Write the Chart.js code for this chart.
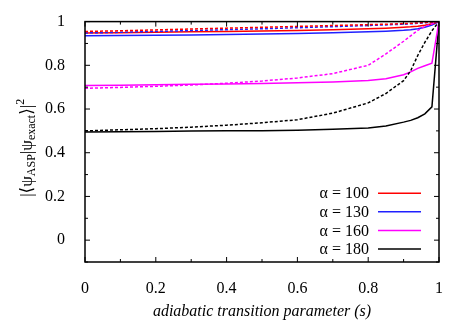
<!DOCTYPE html>
<html>
<head>
<meta charset="utf-8">
<script src="https://cdn.jsdelivr.net/npm/chart.js@4"></script>
<style>
  html, body { margin: 0; padding: 0; background: #fff; }
  #wrap { width: 463px; height: 324px; }
</style>
</head>
<body>
<div id="wrap"><canvas id="grafico" width="463" height="324"></canvas></div>
<script>
// valores
const sValues = [0, 0.1, 0.2, 0.3, 0.4, 0.5, 0.6, 0.7, 0.8, 0.85, 0.9, 0.92, 0.94, 0.96, 0.98, 1]

const alpha100 = [0.948, 0.949, 0.951, 0.953, 0.955, 0.957, 0.959, 0.963, 0.967, 0.97, 0.974, 0.976, 0.979, 0.983, 0.99, 1]
const alpha130 = [0.935, 0.936, 0.937, 0.939, 0.941, 0.943, 0.945, 0.949, 0.953, 0.956, 0.96, 0.963, 0.967, 0.974, 0.984, 1]
const alpha160 = [0.708, 0.709, 0.711, 0.713, 0.715, 0.717, 0.72, 0.724, 0.731, 0.739, 0.757, 0.77, 0.786, 0.798, 0.81, 1]
const alpha180 = [0.495, 0.496, 0.497, 0.499, 0.5, 0.501, 0.503, 0.507, 0.513, 0.522, 0.54, 0.548, 0.56, 0.578, 0.61, 1]

// curvas tracejadas
const alpha100b = [0.955, 0.958, 0.962, 0.966, 0.97, 0.974, 0.978, 0.982, 0.986, 0.988, 0.991, 0.992, 0.994, 0.996, 0.998, 1]
const alpha130b = [0.948, 0.951, 0.955, 0.959, 0.963, 0.967, 0.972, 0.977, 0.982, 0.985, 0.988, 0.99, 0.992, 0.995, 0.997, 1]
const alpha160b = [0.695, 0.699, 0.704, 0.71, 0.718, 0.728, 0.742, 0.762, 0.8, 0.852, 0.91, 0.935, 0.96, 0.978, 0.99, 1]
const alpha180b = [0.5, 0.505, 0.51, 0.517, 0.526, 0.537, 0.551, 0.581, 0.628, 0.671, 0.73, 0.775, 0.845, 0.905, 0.958, 1]

const legendLabels = ['α = 100', 'α = 130', 'α = 160', 'α = 180']
const xTickLabels = ['0', '0.2', '0.4', '0.6', '0.8', '1']
const yTickLabels = ['0', '0.2', '0.4', '0.6', '0.8', '1']

const cores = ['#ff0000', '#2020ff', '#ff00ff', '#000000']
const serif = '"Liberation Serif", "DejaVu Serif", serif'

function pontos(ys) {
    return sValues.map((s, i) => ({ x: s, y: ys[i] }))
}

const solidas = [alpha100, alpha130, alpha160, alpha180]
const tracejadas = [alpha100b, alpha130b, alpha160b, alpha180b]

const datasets = []
tracejadas.forEach((serie, i) => {
    datasets.push({
        label: legendLabels[i] + ' (b)',
        data: pontos(serie),
        borderColor: cores[i],
        borderWidth: 1.5,
        borderDash: [3, 2],
        pointRadius: 0,
        tension: 0
    })
})
solidas.forEach((serie, i) => {
    datasets.push({
        label: legendLabels[i],
        data: pontos(serie),
        borderColor: cores[i],
        borderWidth: 1.5,
        pointRadius: 0,
        tension: 0
    })
})

function rotulo(v, lista) {
    const k = Math.round(v * 10)
    if (k < 0 || k % 2 != 0) return ''
    const txt = String(k / 10)
    return lista.includes(txt) ? txt : ''
}

// moldura, marcas internas, titulos e legenda
const extras = {
    id: 'extras',
    afterDraw(chart) {
        const ctx = chart.ctx
        const a = chart.chartArea
        const xs = chart.scales.x
        const ys = chart.scales.y
        ctx.save()
        ctx.strokeStyle = '#000'
        ctx.lineWidth = 1.5
        ctx.strokeRect(a.left, a.top, a.right - a.left, a.bottom - a.top)

        ctx.lineWidth = 1
        for (let k = 0; k <= 10; k++) {
            const px = xs.getPixelForValue(k / 10)
            const len = k % 2 == 0 ? 5 : 3
            ctx.beginPath()
            ctx.moveTo(px, a.bottom); ctx.lineTo(px, a.bottom - len)
            ctx.moveTo(px, a.top); ctx.lineTo(px, a.top + len)
            ctx.stroke()
        }
        for (let k = -1; k <= 10; k++) {
            const py = ys.getPixelForValue(k / 10)
            const len = k % 2 == 0 ? 5 : 3
            ctx.beginPath()
            ctx.moveTo(a.left, py); ctx.lineTo(a.left + len, py)
            ctx.moveTo(a.right, py); ctx.lineTo(a.right - len, py)
            ctx.stroke()
        }

        // titulo do eixo x
        ctx.fillStyle = '#000'
        ctx.font = 'italic 16px ' + serif
        ctx.textAlign = 'center'
        ctx.textBaseline = 'middle'
        ctx.fillText('adiabatic transition parameter (s)', (a.left + a.right) / 2, 312)

        // titulo do eixo y com subscritos
        const partes = [
            { t: '|⟨ψ', f: 17, dy: 0 },
            { t: 'ASP', f: 12, dy: 4 },
            { t: '|ψ', f: 17, dy: 0 },
            { t: 'exact', f: 12, dy: 4 },
            { t: '⟩|', f: 17, dy: 0 },
            { t: '2', f: 12, dy: -7 }
        ]
        let total = 0
        partes.forEach(p => {
            ctx.font = p.f + 'px ' + serif
            p.w = ctx.measureText(p.t).width
            total += p.w
        })
        ctx.translate(28, (a.top + a.bottom) / 2 + 6)
        ctx.rotate(-Math.PI / 2)
        ctx.textAlign = 'left'
        let cx = -total / 2
        partes.forEach(p => {
            ctx.font = p.f + 'px ' + serif
            ctx.fillText(p.t, cx, p.dy)
            cx += p.w
        })
        ctx.setTransform(1, 0, 0, 1, 0, 0)

        // legenda
        ctx.font = '16px ' + serif
        ctx.textAlign = 'right'
        ctx.textBaseline = 'middle'
        ctx.lineWidth = 1.5
        legendLabels.forEach((lab, i) => {
            const py = a.bottom - 13 - (legendLabels.length - 1 - i) * 18.6
            ctx.fillStyle = '#000'
            ctx.fillText(lab, a.right - 70, py + 1)
            ctx.strokeStyle = cores[i]
            ctx.beginPath()
            ctx.moveTo(a.right - 61, py)
            ctx.lineTo(a.right - 18, py)
            ctx.stroke()
        })
        ctx.restore()
    }
}

new Chart(document.getElementById('grafico'), {
    type: 'line',
    data: { datasets: datasets },
    options: {
        responsive: false,
        animation: false,
        layout: { padding: { top: 19, right: 24, left: 0, bottom: 0 } },
        plugins: {
            legend: { display: false },
            tooltip: { enabled: false }
        },
        scales: {
            x: {
                type: 'linear',
                min: 0,
                max: 1,
                grid: { display: false },
                border: { display: false },
                afterFit: (scale) => { scale.height = 62 },
                ticks: {
                    stepSize: 0.1,
                    autoSkip: false,
                    maxRotation: 0,
                    padding: 9,
                    color: '#000',
                    font: { family: serif, size: 16 },
                    callback: (v) => rotulo(v, xTickLabels)
                }
            },
            y: {
                type: 'linear',
                min: -0.1,
                max: 1,
                grid: { display: false },
                border: { display: false },
                afterFit: (scale) => { scale.width = 85 },
                ticks: {
                    stepSize: 0.1,
                    autoSkip: false,
                    padding: 12,
                    color: '#000',
                    font: { family: serif, size: 16 },
                    callback: (v) => rotulo(v, yTickLabels)
                }
            }
        }
    },
    plugins: [extras]
});
</script>
</body>
</html>
